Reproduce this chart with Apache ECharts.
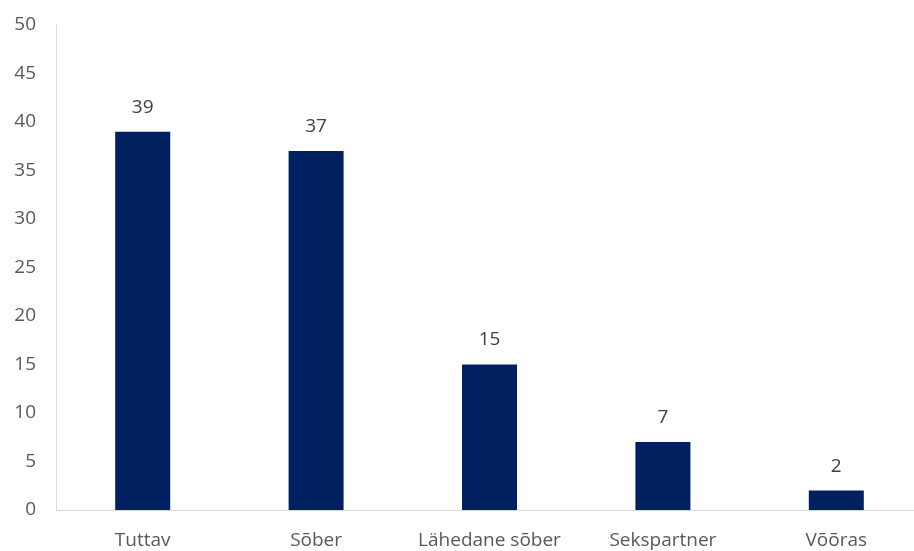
<!DOCTYPE html>
<html><head><meta charset="utf-8">
<script src="https://cdn.jsdelivr.net/npm/echarts@6/dist/echarts.min.js"></script>
<style>html,body{margin:0;padding:0;background:#fff;overflow:hidden;width:914px;height:551px}#c{width:924px;height:551px}</style>
</head><body><div id="c"></div>
<script>
const categories = ["Tuttav", "Sõber", "Lähedane sõber", "Sekspartner", "Võõras"];
const values = [39, 37, 15, 7, 2];
const yTicks = [0, 50, 5];

const chart = echarts.init(document.getElementById('c'), null, {renderer: 'canvas'});
const font = '"Open Sans", "Liberation Sans", sans-serif';
chart.setOption({
  animation: false,
  grid: {left: 56, right: 1, top: 25, bottom: 41, containLabel: false},
  xAxis: {
    type: 'category', data: categories,
    axisLine: {show: true, lineStyle: {color: '#d9d9d9', width: 1}},
    axisTick: {show: false},
    axisLabel: {color: '#595959', fontSize: 19, fontFamily: font, margin: 21, interval: 0}
  },
  yAxis: {
    type: 'value', min: yTicks[0], max: yTicks[1], interval: yTicks[2],
    axisLine: {show: true, lineStyle: {color: '#d9d9d9', width: 1}},
    axisTick: {show: false},
    splitLine: {show: false},
    axisLabel: {color: '#595959', fontSize: 19, fontFamily: font, margin: 20}
  },
  series: [{
    type: 'bar', data: values, barWidth: 55,
    itemStyle: {color: '#002060'},
    label: {show: true, position: 'top', distance: 15, color: '#404040', fontSize: 19, fontFamily: font}
  }]
});
</script></body></html>
